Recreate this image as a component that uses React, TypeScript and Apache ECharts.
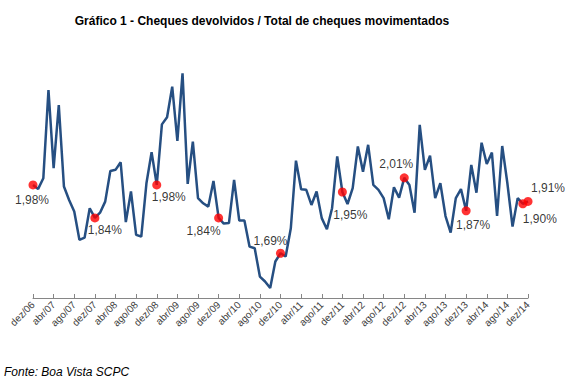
import React, { useEffect, useRef } from "react";
import * as echarts from "echarts";

const MONTHS = ["jan", "fev", "mar", "abr", "mai", "jun", "jul", "ago", "set", "out", "nov", "dez"];
const categories: string[] = ["dez/06"];
for (let y = 7; y <= 14; y++) {
  for (const m of MONTHS) categories.push(`${m}/${String(y).padStart(2, "0")}`);
}

const values: number[] = [
  1.98, 1.963, 2.008, 2.383, 2.051, 2.319, 1.973, 1.916, 1.867, 1.747, 1.756, 1.881,
  1.84, 1.862, 1.909, 2.039, 2.044, 2.076, 1.822, 1.952, 1.768, 1.761, 1.987, 2.119,
  1.98, 2.237, 2.267, 2.397, 2.167, 2.454, 1.984, 2.164, 1.924, 1.902, 1.888, 1.997,
  1.84, 1.816, 1.818, 2.001, 1.829, 1.829, 1.718, 1.711, 1.591, 1.57, 1.542, 1.655,
  1.69, 1.676, 1.796, 2.083, 1.962, 1.959, 1.895, 1.952, 1.839, 1.792, 1.881, 2.101,
  1.95, 1.899, 1.966, 2.143, 2.036, 2.15, 1.98, 1.959, 1.924, 1.834, 1.97, 1.926,
  2.01, 1.98, 1.862, 2.235, 2.044, 2.104, 1.924, 1.987, 1.848, 1.778, 1.924, 1.962,
  1.87, 2.065, 1.947, 2.159, 2.069, 2.117, 1.848, 2.145, 1.987, 1.803, 1.924, 1.90,
  1.91,
];

const labeledIdx = [0, 12, 24, 36, 48, 60, 72, 84, 95, 96];
const labelOffsets: [number, number][] = [
  [-1, 15], [10, 12], [12, 12], [-15, 13], [-10, -12], [8, 23], [-8, -14], [7, 14], [17, 15], [20, -13],
];

const fmt = (v: number) => v.toFixed(2).replace(".", ",") + "%";

export default function App() {
  const ref = useRef<HTMLDivElement>(null);
  useEffect(() => {
    if (!ref.current) return;
    const chart = echarts.init(ref.current, null, { renderer: "svg" });
    chart.setOption({
      animation: false,
      backgroundColor: "#ffffff",
      title: {
        text: "Gráfico 1 - Cheques devolvidos / Total de cheques movimentados",
        left: 257,
        textAlign: "center",
        top: 10,
        textStyle: { fontFamily: "Liberation Sans, Arial", fontSize: 12, fontWeight: "bold", color: "#000" },
      },
      graphic: [
        {
          type: "text",
          left: 4,
          top: 366,
          style: {
            text: "Fonte: Boa Vista SCPC",
            font: "italic 12px 'Liberation Sans', Arial",
            fill: "#000",
          },
        },
      ],
      grid: { left: 33, right: 39, top: 62.4, bottom: 94 },
      xAxis: {
        type: "category",
        data: categories,
        boundaryGap: false,
        axisLine: { lineStyle: { color: "#868686", width: 1 } },
        axisTick: { interval: 3, inside: true, length: 4, lineStyle: { color: "#868686" } },
        axisLabel: {
          interval: 3,
          rotate: 45,
          fontSize: 10,
          margin: 5,
          color: "#404040",
          fontFamily: "Liberation Sans, Arial",
        },
      },
      yAxis: {
        type: "value",
        min: 1.5,
        max: 2.5,
        show: false,
        splitLine: { show: false },
      },
      series: [
        {
          type: "line",
          data: values,
          symbol: "none",
          lineStyle: { color: "#264f82", width: 2.5 },
          z: 2,
        },
        {
          type: "scatter",
          data: labeledIdx.map((i, k) => ({
            value: [i, values[i]],
            label: {
              show: true,
              position: "inside",
              offset: labelOffsets[k],
              formatter: fmt(values[i]),
              color: "#000",
              fontSize: 12,
              fontFamily: "Liberation Sans, Arial",
            },
          })),
          symbolSize: 9,
          itemStyle: { color: "#ff0000" },
          z: 3,
        },
      ],
    });
    return () => chart.dispose();
  }, []);
  return (
    <div
      ref={ref}
      style={{ position: "fixed", left: 0, top: 0, width: 567, height: 392, background: "#fff" }}
    />
  );
}
